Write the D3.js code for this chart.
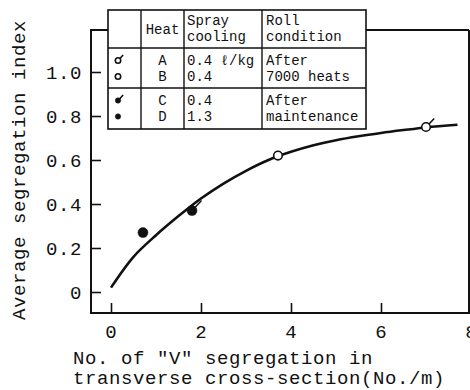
<!DOCTYPE html>
<html><head><meta charset="utf-8">
<script src="https://cdn.jsdelivr.net/npm/d3@7"></script>
<style>
html,body{margin:0;padding:0;background:#fff;}
svg{display:block;}
text{font-family:"Liberation Mono","DejaVu Sans Mono",monospace;fill:#111;}
</style></head>
<body>
<svg id="c" width="470" height="390"></svg>
<script>
// ---- data ----
const curveX = [0, 0.5, 1.0, 1.5, 2.0, 2.5, 3.0, 3.5, 4.0, 4.5, 5.0, 5.5, 6.0, 6.5, 7.0, 7.7];
const curveY = [0.02, 0.16, 0.258, 0.345, 0.425, 0.493, 0.551, 0.60, 0.637, 0.667, 0.690, 0.708, 0.723, 0.736, 0.748, 0.760];
const heats = ["A", "B", "C", "D"];
const pointX = [7.0, 3.71, 1.80, 0.71];
const pointY = [0.75, 0.62, 0.37, 0.27];
const pointFilled = [false, false, true, true];
const pointFlag = [true, false, true, false];
const xTicks = [0, 2, 4, 6, 8];
const yTicks = [0, 0.2, 0.4, 0.6, 0.8, 1.0];
const yTickLabels = ["0", "0.2", "0.4", "0.6", "0.8", "1.0"];
const sprayCooling = ["0.4 ℓ/kg", "0.4", "0.4", "1.3"];
const rollCondition = [["After", "7000 heats"], ["After", "maintenance"]];
const xTitle = ["No. of \"V\" segregation in", "transverse cross-section(No./m)"];
const yTitle = "Average segregation index";

// ---- layout ----
const svg = d3.select("#c");
const frame = {l: 91, r: 469, t: 30, b: 313};
const x = d3.scaleLinear().domain([0, 8]).range([111, 471]);
const y = d3.scaleLinear().domain([0, 1]).range([292, 72]);
const ink = "#111";

// frame
svg.append("path")
  .attr("d", `M${frame.r},${frame.t}H${frame.l}V${frame.b}H${frame.r}V${frame.t}`)
  .attr("fill", "none").attr("stroke", ink).attr("stroke-width", 2);

// y axis ticks (inward)
const yAxis = d3.axisRight(y).tickValues(yTicks).tickSize(10).tickFormat("");
svg.append("g").attr("transform", `translate(${frame.l},0)`).call(yAxis)
  .call(g => g.select(".domain").remove())
  .call(g => g.selectAll("line").attr("stroke", ink).attr("stroke-width", 1.6));
svg.append("g").selectAll("text").data(yTicks).join("text")
  .attr("x", 82).attr("y", d => y(d)).attr("dy", "0.35em")
  .attr("text-anchor", "end").attr("font-size", 19).attr("letter-spacing", 0.6)
  .text((d, i) => yTickLabels[i]);

// x axis ticks (inward)
const xAxis = d3.axisTop(x).tickValues(xTicks).tickSize(10).tickFormat("");
svg.append("g").attr("transform", `translate(0,${frame.b})`).call(xAxis)
  .call(g => g.select(".domain").remove())
  .call(g => g.selectAll("line").attr("stroke", ink).attr("stroke-width", 1.6));
svg.append("g").selectAll("text").data(xTicks).join("text")
  .attr("x", d => x(d)).attr("y", 338)
  .attr("text-anchor", "middle").attr("font-size", 19)
  .text(d => d);

// axis titles
svg.append("g").selectAll("text").data(xTitle).join("text")
  .attr("x", 73).attr("y", (d, i) => 364 + i * 20)
  .attr("font-size", 19).attr("letter-spacing", 0.6)
  .text(d => d);
svg.append("text")
  .attr("transform", "translate(25,170) rotate(-90)")
  .attr("text-anchor", "middle").attr("font-size", 19).attr("letter-spacing", 0.6)
  .text(yTitle);

// curve
const line = d3.line().x(d => x(d[0])).y(d => y(d[1])).curve(d3.curveCatmullRom);
svg.append("path").datum(curveX.map((v, i) => [v, curveY[i]]))
  .attr("d", line).attr("fill", "none").attr("stroke", ink).attr("stroke-width", 2.6);

// markers
function marker(g, cx, cy, filled, flag, r) {
  if (flag) {
    g.append("line").attr("x1", cx + r * 0.6).attr("y1", cy - r * 0.6)
      .attr("x2", cx + r * 1.9).attr("y2", cy - r * 2.0)
      .attr("stroke", ink).attr("stroke-width", 1.5);
  }
  g.append("circle").attr("cx", cx).attr("cy", cy).attr("r", r)
    .attr("fill", filled ? ink : "#fff").attr("stroke", ink).attr("stroke-width", filled ? 0.5 : 1.6);
}
const pts = svg.append("g");
heats.forEach((h, i) => marker(pts, x(pointX[i]), y(pointY[i]), pointFilled[i], pointFlag[i], pointFilled[i] ? 5 : 4.3));

// legend table
const tb = svg.append("g");
const cols = [108, 141, 184, 262, 366];
const rows = [10, 48, 88, 129];
tb.append("rect").attr("x", cols[0]).attr("y", rows[0])
  .attr("width", cols[4] - cols[0]).attr("height", rows[3] - rows[0])
  .attr("fill", "#fff").attr("stroke", ink).attr("stroke-width", 1.6);
cols.slice(1, 4).forEach(c => tb.append("line").attr("x1", c).attr("x2", c)
  .attr("y1", rows[0]).attr("y2", rows[3]).attr("stroke", ink).attr("stroke-width", 1.4));
rows.slice(1, 3).forEach(r => tb.append("line").attr("x1", cols[0]).attr("x2", cols[4])
  .attr("y1", r).attr("y2", r).attr("stroke", ink).attr("stroke-width", 1.4));

const fs = 14;
const tt = (xx, yy, s, anchor) => tb.append("text").attr("x", xx).attr("y", yy)
  .attr("font-size", fs).attr("text-anchor", anchor || "start").text(s);
tt((cols[1] + cols[2]) / 2, 34, "Heat", "middle");
tt(187, 25, "Spray"); tt(187, 41, "cooling");
tt(266, 25, "Roll"); tt(266, 41, "condition");
const lineY = [65, 81, 105, 121];
heats.forEach((h, i) => {
  tt((cols[1] + cols[2]) / 2, lineY[i], h, "middle");
  tt(187, lineY[i], sprayCooling[i]);
  marker(tb, 118, lineY[i] - 4.5, pointFilled[i], pointFlag[i], 2.7);
});
rollCondition.forEach((rc, j) => rc.forEach((s, k) => tt(266, lineY[j * 2 + k], s)));
</script>
</body></html>
